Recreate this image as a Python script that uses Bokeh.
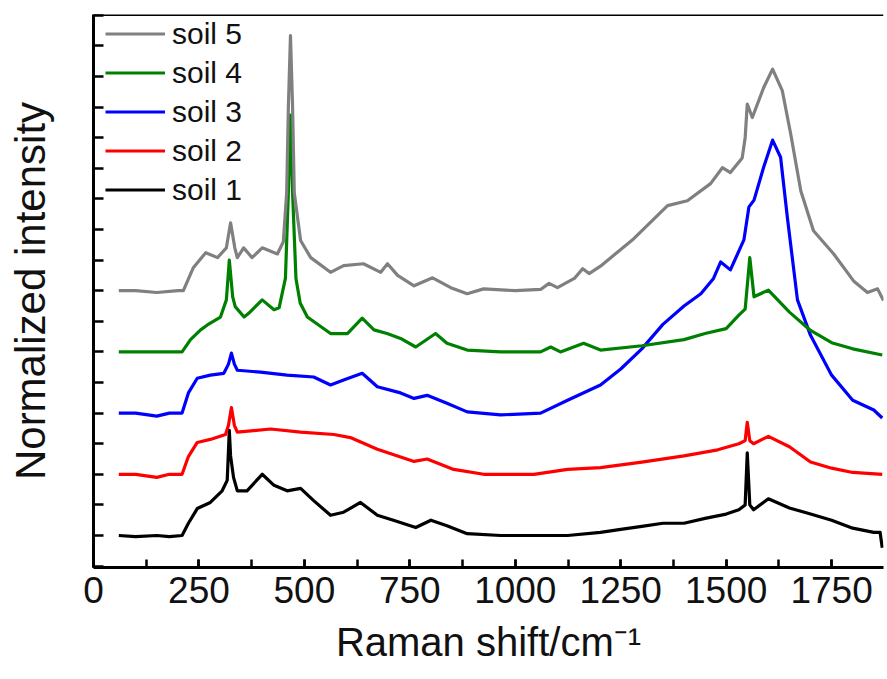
from bokeh.plotting import figure
from bokeh.models import Range1d, SingleIntervalTicker, Span, Legend, LegendItem, CustomJSTickFormatter
from bokeh.embed import file_html
from bokeh.resources import INLINE

# ---- data (Raman shift in cm-1, normalized intensity relative to each curve's baseline) ----
soil1_x = [60, 100, 150, 180, 210, 225, 246, 277, 305, 317, 322, 325, 332, 341, 364, 400, 428, 459, 491, 522, 562, 593, 633, 673, 711, 764, 800, 838, 886, 965, 1050, 1124, 1202, 1250, 1300, 1350, 1400, 1450, 1500, 1530, 1545, 1550, 1556, 1565, 1600, 1650, 1700, 1750, 1800, 1850, 1865, 1870]
soil1_y = [0, -0.02, 0, -0.02, 0, 0.2, 0.44, 0.54, 0.73, 0.9, 1.72, 1.3, 0.95, 0.73, 0.73, 1.0, 0.82, 0.73, 0.77, 0.57, 0.33, 0.38, 0.54, 0.33, 0.25, 0.13, 0.25, 0.16, 0.03, 0, 0, 0, 0.05, 0.1, 0.15, 0.2, 0.2, 0.28, 0.35, 0.42, 0.5, 1.35, 0.5, 0.42, 0.6, 0.45, 0.35, 0.25, 0.12, 0.05, 0.05, -0.2]

soil2_x = [60, 100, 150, 180, 210, 225, 246, 277, 313, 320, 327, 334, 341, 420, 491, 570, 609, 673, 760, 791, 854, 925, 1044, 1124, 1202, 1300, 1400, 1480, 1530, 1545, 1550, 1556, 1565, 1600, 1650, 1700, 1750, 1800, 1870]
soil2_y = [0, 0, -0.05, 0, 0, 0.29, 0.52, 0.57, 0.65, 0.8, 1.09, 0.8, 0.69, 0.74, 0.69, 0.65, 0.6, 0.41, 0.21, 0.25, 0.08, 0, 0, 0.08, 0.11, 0.2, 0.3, 0.4, 0.5, 0.55, 0.85, 0.55, 0.5, 0.62, 0.45, 0.2, 0.1, 0.03, 0]

soil3_x = [60, 100, 150, 180, 210, 225, 246, 277, 309, 320, 327, 334, 341, 396, 459, 522, 562, 593, 637, 673, 728, 760, 791, 838, 886, 965, 1060, 1124, 1202, 1250, 1300, 1350, 1400, 1440, 1470, 1487, 1510, 1542, 1554, 1566, 1589, 1610, 1629, 1645, 1669, 1700, 1750, 1800, 1850, 1870]
soil3_y = [0, 0, -0.05, 0, 0, 0.33, 0.57, 0.62, 0.65, 0.8, 0.98, 0.8, 0.7, 0.67, 0.62, 0.59, 0.46, 0.54, 0.65, 0.43, 0.33, 0.24, 0.29, 0.16, 0.02, -0.03, 0, 0.21, 0.46, 0.72, 1.05, 1.45, 1.75, 1.95, 2.2, 2.47, 2.34, 2.83, 3.37, 3.48, 4.02, 4.46, 4.18, 3.2, 1.85, 1.27, 0.62, 0.21, 0.05, -0.08]

soil4_x = [60, 100, 150, 180, 210, 230, 254, 270, 301, 315, 322, 330, 336, 357, 368, 400, 428, 440, 455, 462, 467, 472, 480, 490, 507, 562, 602, 637, 665, 696, 728, 764, 811, 838, 886, 965, 1060, 1084, 1107, 1162, 1202, 1300, 1400, 1450, 1500, 1530, 1545, 1556, 1566, 1600, 1650, 1700, 1750, 1800, 1870]
soil4_y = [0, 0, 0, 0, 0, 0.2, 0.36, 0.44, 0.57, 0.85, 1.5, 0.9, 0.74, 0.57, 0.63, 0.85, 0.69, 0.72, 1.2, 2.6, 3.87, 2.6, 1.2, 0.8, 0.57, 0.3, 0.3, 0.55, 0.36, 0.3, 0.22, 0.08, 0.3, 0.14, 0.03, 0, 0, 0.08, 0, 0.14, 0.03, 0.1, 0.2, 0.3, 0.38, 0.6, 0.7, 1.54, 0.9, 1.01, 0.65, 0.35, 0.15, 0.05, -0.05]

soil5_x = [60, 100, 150, 200, 213, 237, 266, 294, 315, 325, 335, 341, 356, 376, 400, 436, 450, 458, 462, 467, 472, 476, 491, 515, 562, 593, 640, 681, 697, 721, 760, 804, 847, 886, 925, 1000, 1060, 1080, 1100, 1140, 1160, 1175, 1202, 1281, 1361, 1408, 1463, 1491, 1510, 1538, 1545, 1550, 1562, 1589, 1610, 1633, 1653, 1677, 1707, 1755, 1802, 1835, 1859, 1873]
soil5_y = [0, 0, -0.03, 0, 0, 0.38, 0.62, 0.54, 0.7, 1.11, 0.7, 0.54, 0.7, 0.54, 0.7, 0.6, 0.8, 1.6, 3.0, 4.17, 3.0, 1.6, 0.82, 0.54, 0.3, 0.41, 0.44, 0.3, 0.44, 0.25, 0.08, 0.21, 0.05, -0.05, 0.03, 0, 0.02, 0.12, 0.05, 0.2, 0.36, 0.28, 0.4, 0.85, 1.39, 1.47, 1.75, 2.01, 1.93, 2.17, 2.5, 3.05, 2.83, 3.32, 3.62, 3.27, 2.56, 1.63, 0.98, 0.6, 0.16, -0.03, 0.03, -0.16]

labels = ["soil 1", "soil 2", "soil 3", "soil 4", "soil 5"]
colors = ["#000000", "#ff0000", "#0000ff", "#008000", "#808080"]
offsets = [0, 1, 2, 3, 4]
xs = [soil1_x, soil2_x, soil3_x, soil4_x, soil5_x]
ys = [soil1_y, soil2_y, soil3_y, soil4_y, soil5_y]

FONT = "Liberation Sans"

p = figure(width=887, height=679, output_backend="svg", toolbar_location=None,
           x_range=Range1d(0, 1873), y_range=Range1d(-0.523, 8.513),
           min_border_left=93, min_border_right=4, min_border_top=14, min_border_bottom=112)
p.outline_line_color = None
p.xgrid.visible = False
p.ygrid.visible = False
p.background_fill_color = "white"
p.border_fill_color = "white"

renderers = []
for x, y, off, c in zip(xs, ys, offsets, colors):
    r = p.line(list(x), [yy + off for yy in y], line_color=c, line_width=3.2, line_join="round")
    renderers.append(r)

# axes styling
p.xaxis.ticker = SingleIntervalTicker(interval=250, num_minor_ticks=2)
p.yaxis.ticker = SingleIntervalTicker(interval=0.5, num_minor_ticks=0)
for ax in (p.xaxis[0], p.yaxis[0]):
    ax.axis_line_width = 3
    ax.axis_line_color = "black"
    ax.major_tick_out = 0
    ax.minor_tick_out = 0
    ax.major_tick_line_width = 2.5
    ax.minor_tick_line_width = 2.5
    ax.axis_label_text_font = FONT
    ax.axis_label_text_font_style = "normal"
    ax.axis_label_text_color = "#111111"
    ax.major_label_text_font = FONT
    ax.major_label_text_color = "#111111"
p.xaxis.major_tick_in = 8
p.xaxis.minor_tick_in = 8
p.yaxis.major_tick_in = 10
p.yaxis.minor_tick_in = 10

p.xaxis.axis_label = "Raman shift/cm\u207b\u00b9"
p.xaxis.axis_label_text_font_size = "40px"
p.xaxis.major_label_text_font_size = "37px"
p.xaxis.major_label_standoff = 9
p.xaxis.axis_label_standoff = 14

p.yaxis.axis_label = "Normalized intensity"
p.yaxis.axis_label_text_font_size = "42px"
p.yaxis.formatter = CustomJSTickFormatter(code="return ''")
p.yaxis.major_label_standoff = 0
p.yaxis.axis_label_standoff = 40

top_line = Span(location=8.513, dimension="width", line_color="black", line_width=3)
p.add_layout(top_line)

items = [LegendItem(label=labels[i], renderers=[renderers[i]]) for i in [4, 3, 2, 1, 0]]
legend = Legend(items=items, location=(12, 553 - 195), glyph_width=60, glyph_height=39,
                label_height=39, spacing=0, padding=0, margin=0, label_standoff=7,
                border_line_color=None, background_fill_alpha=0,
                label_text_font=FONT, label_text_font_size="30px", label_text_color="#111111")
p.add_layout(legend)

open("out.html", "w").write(file_html(p, INLINE))
